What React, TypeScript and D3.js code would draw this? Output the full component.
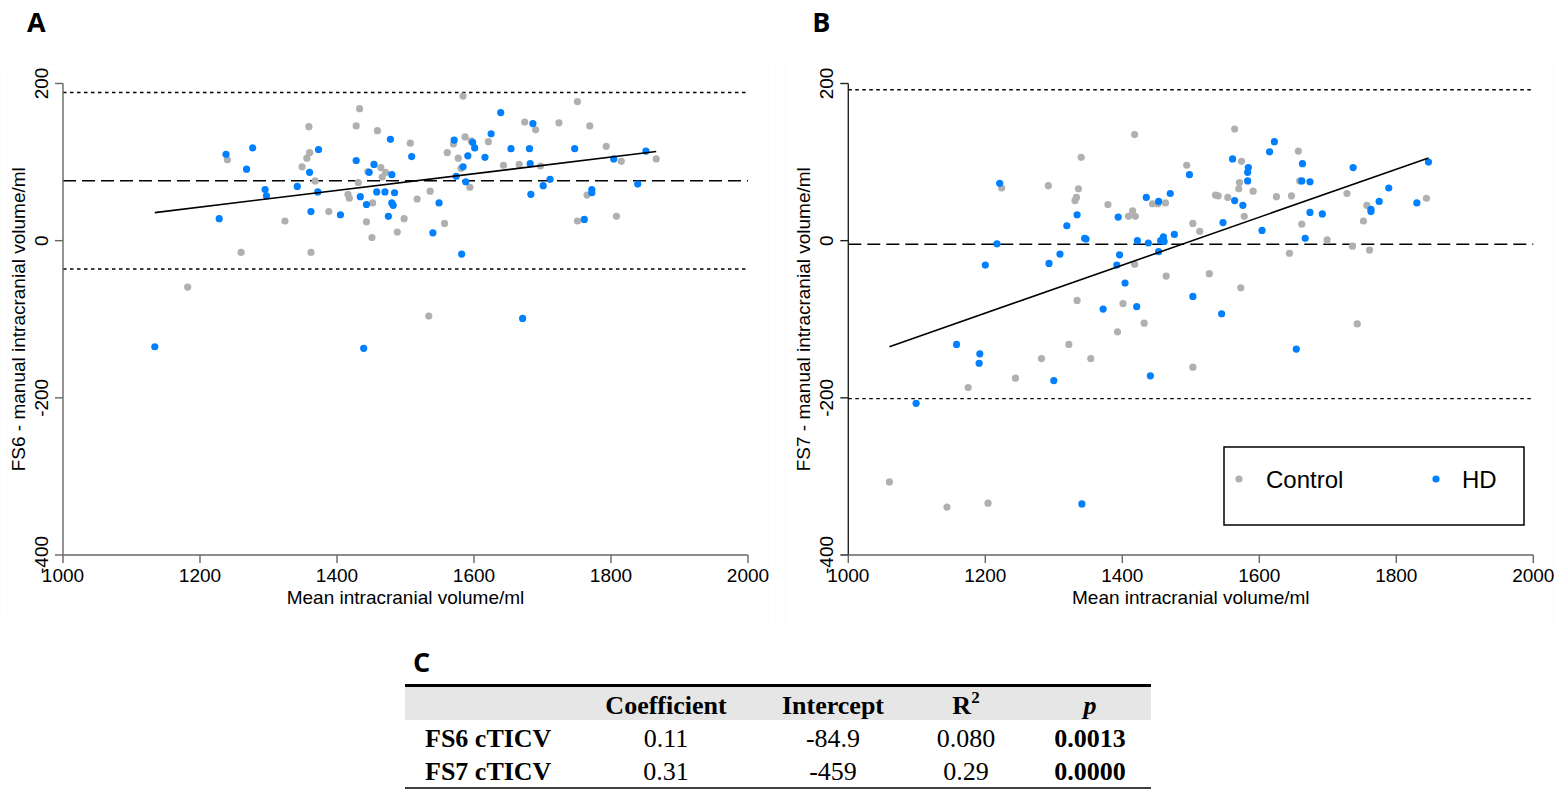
import React from "react";
import * as d3 from "d3";

// values (x = mean ICV, y = difference)
const fs6Control: [number, number][] = [
  [1433, 168], [1359, 145], [1428, 146], [1459, 140], [1240, 103], [1360, 112], [1356, 105], [1349, 94],
  [1368, 76], [1431, 74], [1445, 88], [1464, 93], [1466, 81], [1471, 87], [1416, 59], [1418, 54],
  [1452, 48], [1388, 37], [1324, 25], [1443, 24], [1451, 4], [1260, -15], [1362, -15], [1182, -59],
  [1488, 11], [1507, 124], [1584, 184], [1751, 177], [1674, 151], [1724, 150], [1769, 146], [1690, 141],
  [1587, 132], [1570, 123], [1561, 112], [1577, 105], [1596, 127], [1621, 126], [1793, 120], [1581, 92],
  [1643, 96], [1666, 97], [1697, 95], [1815, 101], [1866, 104], [1594, 68], [1536, 63], [1517, 53],
  [1498, 28], [1557, 22], [1765, 58], [1751, 25], [1808, 31], [1534, -96],
];
const fs6HD: [number, number][] = [
  [1238, 110], [1277, 118], [1268, 91], [1373, 116], [1428, 102], [1454, 97], [1447, 87], [1360, 87],
  [1295, 65], [1297, 57], [1342, 69], [1372, 62], [1434, 56], [1458, 62], [1470, 62], [1443, 46],
  [1362, 37], [1405, 33], [1228, 28], [1475, 31], [1480, 48], [1482, 45], [1134, -135], [1439, -137],
  [1639, 163], [1686, 149], [1625, 136], [1478, 129], [1571, 128], [1598, 125], [1601, 118], [1509, 107],
  [1591, 108], [1616, 106], [1654, 117], [1681, 117], [1747, 117], [1851, 114], [1804, 104], [1682, 98],
  [1584, 94], [1480, 84], [1574, 82], [1588, 75], [1711, 78], [1701, 70], [1839, 72], [1683, 59],
  [1772, 65], [1772, 61], [1484, 61], [1549, 48], [1540, 10], [1761, 27], [1582, -17], [1671, -99],
];
const fs7Control: [number, number][] = [
  [1418, 135], [1340, 106], [1224, 67], [1292, 70], [1336, 66], [1333, 55], [1331, 51], [1379, 46],
  [1415, 38], [1409, 31], [1419, 31], [1444, 47], [1452, 47], [1463, 48], [1418, -30], [1334, -76],
  [1401, -80], [1432, -105], [1393, -116], [1322, -132], [1282, -150], [1354, -150], [1244, -175], [1175, -187],
  [1564, 142], [1657, 114], [1494, 96], [1574, 101], [1571, 74], [1570, 66], [1591, 63], [1659, 76],
  [1536, 58], [1540, 57], [1554, 55], [1625, 56], [1647, 57], [1578, 31], [1503, 22], [1513, 12],
  [1464, -45], [1527, -42], [1573, -60], [1644, -16], [1662, 21], [1728, 60], [1757, 45], [1844, 54],
  [1752, 25], [1699, 1], [1736, -7], [1761, -12], [1743, -106], [1503, -161], [1060, -307], [1144, -339],
  [1204, -334],
];
const fs7HD: [number, number][] = [
  [1221, 73], [1435, 55], [1453, 50], [1334, 33], [1394, 30], [1319, 19], [1217, -4], [1345, 3],
  [1347, 2], [1422, 0], [1438, -3], [1456, 0], [1460, 5], [1461, -1], [1453, -14], [1309, -17],
  [1293, -29], [1396, -18], [1392, -31], [1200, -31], [1404, -54], [1372, -87], [1421, -84], [1158, -132],
  [1192, -144], [1191, -156], [1441, -172], [1300, -178], [1099, -207], [1341, -335], [1622, 126], [1615, 113],
  [1561, 104], [1584, 93], [1583, 87], [1583, 76], [1498, 84], [1470, 60], [1564, 51], [1576, 45],
  [1547, 23], [1476, 8], [1604, 13], [1503, -71], [1663, 98], [1662, 76], [1674, 75], [1737, 93],
  [1789, 67], [1775, 50], [1763, 40], [1763, 37], [1830, 48], [1847, 100], [1674, 36], [1692, 34],
  [1667, 3], [1545, -93], [1654, -138],
];

// [lower limit, mean, upper limit]
const fs6Limits = [-36, 76.3, 188.5];
const fs7Limits = [-201, -4.5, 192];
// [slope, intercept]
const fs6Fit = [0.1063, -84.9];
const fs7Fit = [0.3053, -458.6];

const xTicks = [1000, 1200, 1400, 1600, 1800, 2000];
const yTicks = [-400, -200, 0, 200];
const legendLabels = ["Control", "HD"];

const tableHeaders = ["Coefficient", "Intercept", "R", "p"];
const tableRows = [
  ["FS6 cTICV", "0.11", "-84.9", "0.080", "0.0013"],
  ["FS7 cTICV", "0.31", "-459", "0.29", "0.0000"],
];

const GRAY = "#b0b0b0";
const BLUE = "#0080ff";
const SANS = "'Liberation Sans', Arial, sans-serif";
const SERIF = "'Liberation Serif', 'Times New Roman', serif";
const LETTER = "'Open Sans', sans-serif";

const Panel = ({ left, label, yLabel, control, hd, limits, fit, legend, yAxisColor }: any) => {
  const x = d3.scaleLinear().domain([1000, 2000]).range([left, left + 685]);
  const y = d3.scaleLinear().domain([-400, 200]).range([555, 83.5]);
  const all = control.concat(hd);
  const [x0, x1] = d3.extent(all, (d: any) => d[0]) as [number, number];
  const line = d3
    .line<number>()
    .x((d) => x(d))
    .y((d) => y(fit[1] + fit[0] * d));
  const ax = left;
  return (
    <g>
      <rect x={left - 63} y={64} width={768} height={560} fill="none" stroke="#fafafa" />
      <text x={left - 36} y={32} fontFamily={LETTER} fontWeight={700} fontSize={27}>
        {label}
      </text>
      {/* reference lines */}
      {limits.map((v: number, i: number) => (
        <line
          key={i}
          x1={x(1000)}
          x2={x(2000)}
          y1={y(v)}
          y2={y(v)}
          stroke="#000"
          strokeWidth={1.4}
          strokeDasharray={i === 1 ? "13,6" : "3.5,3.5"}
        />
      ))}
      {/* axes */}
      <line x1={ax} x2={ax} y1={y(200)} y2={y(-400)} stroke={yAxisColor} strokeWidth={1.4} />
      {yTicks.map((t) => (
        <g key={t}>
          <line x1={ax - 8} x2={ax} y1={y(t)} y2={y(t)} stroke={yAxisColor} strokeWidth={1.4} />
          <text
            transform={`translate(${ax - 15},${y(t)}) rotate(-90)`}
            textAnchor="middle"
            fontFamily={SANS}
            fontSize={19}
          >
            {t}
          </text>
        </g>
      ))}
      <line x1={x(1000)} x2={x(2000)} y1={555} y2={555} stroke="#666" strokeWidth={1.4} />
      {xTicks.map((t) => (
        <g key={t}>
          <line x1={x(t)} x2={x(t)} y1={555} y2={563} stroke="#666" strokeWidth={1.4} />
          <text x={x(t)} y={582} textAnchor="middle" fontFamily={SANS} fontSize={19}>
            {t}
          </text>
        </g>
      ))}
      <text x={(x(1000) + x(2000)) / 2} y={604} textAnchor="middle" fontFamily={SANS} fontSize={19}>
        Mean intracranial volume/ml
      </text>
      <text
        transform={`translate(${ax - 38},${(y(200) + y(-400)) / 2}) rotate(-90)`}
        textAnchor="middle"
        fontFamily={SANS}
        fontSize={19}
      >
        {yLabel}
      </text>
      {/* points */}
      {control.map((d: number[], i: number) => (
        <circle key={"c" + i} cx={x(d[0])} cy={y(d[1])} r={3.6} fill={GRAY} />
      ))}
      {hd.map((d: number[], i: number) => (
        <circle key={"h" + i} cx={x(d[0])} cy={y(d[1])} r={3.6} fill={BLUE} />
      ))}
      <path d={line([x0, x1]) || ""} fill="none" stroke="#000" strokeWidth={1.6} />
      {legend && (
        <g>
          <rect x={1224} y={447} width={300} height={78} fill="#fff" stroke="#000" strokeWidth={1.5} />
          <circle cx={1239} cy={479} r={3.6} fill={GRAY} />
          <text x={1266} y={488} fontFamily={SANS} fontSize={24}>
            {legendLabels[0]}
          </text>
          <circle cx={1436} cy={479} r={3.6} fill={BLUE} />
          <text x={1462} y={488} fontFamily={SANS} fontSize={24}>
            {legendLabels[1]}
          </text>
        </g>
      )}
    </g>
  );
};

const colX = [425, 666, 833, 966, 1090];

const Table = () => (
  <g>
    <text x={413} y={672} fontFamily={LETTER} fontWeight={700} fontSize={27}>
      C
    </text>
    <rect x={405} y={686} width={746} height={34} fill="#e6e6e6" />
    <line x1={405} x2={1151} y1={685.5} y2={685.5} stroke="#000" strokeWidth={3} />
    {tableHeaders.map((h, i) => (
      <text
        key={h}
        x={colX[i + 1]}
        y={714}
        textAnchor="middle"
        fontFamily={SERIF}
        fontWeight={700}
        fontStyle={h === "p" ? "italic" : "normal"}
        fontSize={26}
      >
        {h}
        {h === "R" && (
          <tspan fontSize={17} dy={-11}>
            2
          </tspan>
        )}
      </text>
    ))}
    {tableRows.map((row, r) =>
      row.map((cell, c) => (
        <text
          key={r + "-" + c}
          x={colX[c]}
          y={747 + r * 33}
          textAnchor={c === 0 ? "start" : "middle"}
          fontFamily={SERIF}
          fontWeight={c === 0 || c === 4 ? 700 : 400}
          fontSize={26}
        >
          {cell}
        </text>
      ))
    )}
    <line x1={405} x2={1151} y1={788} y2={788} stroke="#000" strokeWidth={1.5} />
  </g>
);

export default function App() {
  return (
    <svg
      width={1559}
      height={789}
      style={{ position: "absolute", left: 0, top: 0, background: "#fff" }}
    >
      <Panel
        left={63}
        label="A"
        yLabel="FS6 - manual intracranial volume/ml"
        control={fs6Control}
        hd={fs6HD}
        limits={fs6Limits}
        fit={fs6Fit}
        legend={false}
        yAxisColor="#666"
      />
      <Panel
        left={848.3}
        label="B"
        yLabel="FS7 - manual intracranial volume/ml"
        control={fs7Control}
        hd={fs7HD}
        limits={fs7Limits}
        fit={fs7Fit}
        legend={true}
        yAxisColor="#222"
      />
      <Table />
    </svg>
  );
}
